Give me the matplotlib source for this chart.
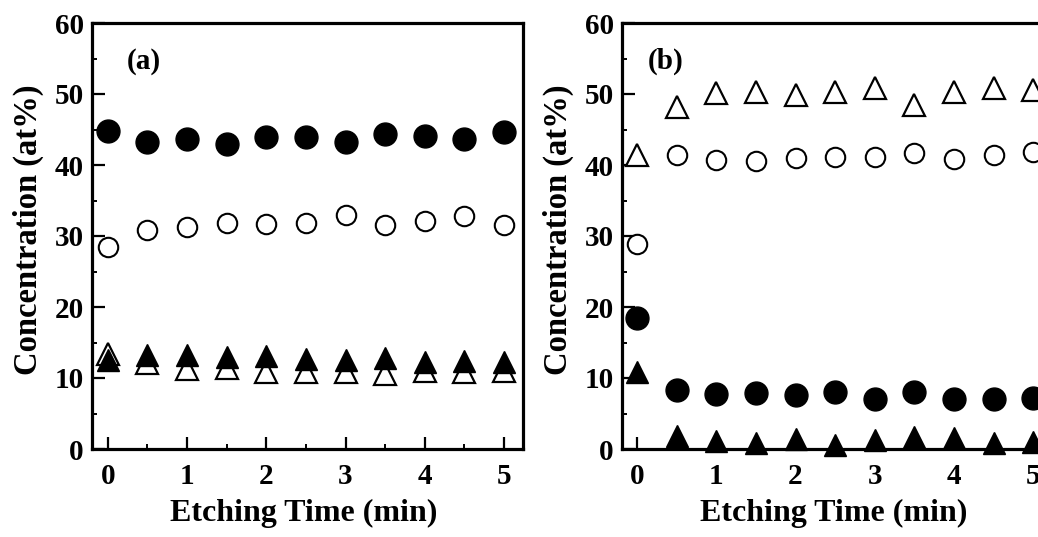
import matplotlib
matplotlib.use("Agg")
import matplotlib.pyplot as plt
from matplotlib.ticker import MultipleLocator

plt.rcParams['font.family'] = ['Liberation Serif', 'DejaVu Serif']
plt.rcParams['font.weight'] = 'bold'

# ---- data ----
time_min = [0, 0.5, 1, 1.5, 2, 2.5, 3, 3.5, 4, 4.5, 5]

a_filled_circle = [44.8, 43.2, 43.7, 42.9, 43.9, 44.0, 43.2, 44.3, 44.1, 43.7, 44.7]
a_open_circle = [28.5, 30.8, 31.2, 31.9, 31.7, 31.9, 33.0, 31.6, 32.1, 32.8, 31.6]
a_filled_tri = [12.5, 13.3, 13.3, 13.0, 13.1, 12.7, 12.5, 12.8, 12.3, 12.4, 12.3]
a_open_tri = [13.4, 12.1, 11.2, 11.4, 10.8, 10.9, 10.9, 10.5, 11.0, 10.8, 11.0]

b_open_tri = [41.4, 48.1, 50.1, 50.3, 49.9, 50.3, 50.8, 48.4, 50.3, 50.8, 50.5]
b_open_circle = [28.9, 41.4, 40.7, 40.5, 41.0, 41.1, 41.1, 41.7, 40.9, 41.4, 41.8]
b_filled_circle = [18.4, 8.3, 7.8, 7.9, 7.6, 8.0, 7.1, 8.0, 7.1, 7.1, 7.2]
b_filled_tri = [10.9, 1.8, 1.1, 0.9, 1.4, 0.6, 1.2, 1.7, 1.6, 0.8, 1.0]

panel_labels = ['(a)', '(b)']
x_ticks = [0, 1, 2, 3, 4, 5]
y_ticks = [0, 10, 20, 30, 40, 50, 60]
xlabel = 'Etching Time (min)'
ylabel = 'Concentration (at%)'

W, H = 1038, 537
fig = plt.figure(figsize=(W / 100, H / 100), dpi=100)

axw = 431 / W
axh = 426 / H
bottom = 1 - 449 / H
ax_a = fig.add_axes([92 / W, bottom, axw, axh])
ax_b = fig.add_axes([622 / W, bottom, axw, axh])


def style(ax, label, xlim, label_x):
    ax.set_xlim(*xlim)
    ax.set_ylim(0, 60)
    ax.set_xticks(x_ticks)
    ax.set_yticks(y_ticks)
    ax.xaxis.set_minor_locator(MultipleLocator(0.5))
    ax.yaxis.set_minor_locator(MultipleLocator(5))
    ax.tick_params(axis='both', which='major', direction='in', length=9,
                   width=1.6, labelsize=21, top=False, right=False)
    ax.tick_params(axis='both', which='minor', direction='in', length=3.5,
                   width=1.4, top=False, right=False)
    ax.tick_params(axis='x', which='major', pad=10)
    ax.tick_params(axis='y', which='major', pad=6)
    for lab in ax.get_xticklabels() + ax.get_yticklabels():
        lab.set_fontweight('bold')
    for sp in ax.spines.values():
        sp.set_linewidth(2.3)
    ax.text(label_x, 54.6, label, fontsize=21, fontweight='bold',
            ha='left', va='center')
    ax.text(0.49, -0.152, xlabel, transform=ax.transAxes, fontsize=23,
            fontweight='bold', ha='center', va='center')
    ax.text(-0.148, 0.515, ylabel, transform=ax.transAxes, fontsize=23.5,
            fontweight='bold', ha='center', va='center', rotation=90)


kw = dict(linestyle='none', clip_on=False, zorder=3)

# panel (a)
ax_a.plot(time_min, a_filled_circle, marker='o', ms=16.5, mfc='black', mec='black', **kw)
ax_a.plot(time_min, a_open_circle, marker='o', ms=14, mfc='white', mec='black', mew=1.5, **kw)
ax_a.plot(time_min, a_filled_tri, marker='^', ms=16, mfc='black', mec='black', **kw)
ax_a.plot(time_min, a_open_tri, marker='^', ms=16, mfc='none', mec='black', mew=1.6, **kw)
style(ax_a, panel_labels[0], (-0.2, 5.24), 0.24)

# panel (b)
ax_b.plot(time_min, b_open_tri, marker='^', ms=16, mfc='white', mec='black', mew=1.6, **kw)
ax_b.plot(time_min, b_open_circle, marker='o', ms=14, mfc='white', mec='black', mew=1.5, **kw)
ax_b.plot(time_min, b_filled_circle, marker='o', ms=16.5, mfc='black', mec='black', **kw)
ax_b.plot(time_min, b_filled_tri, marker='^', ms=16, mfc='black', mec='black', **kw)
style(ax_b, panel_labels[1], (-0.19, 5.25), 0.13)

fig.savefig('out.png', dpi=100)
